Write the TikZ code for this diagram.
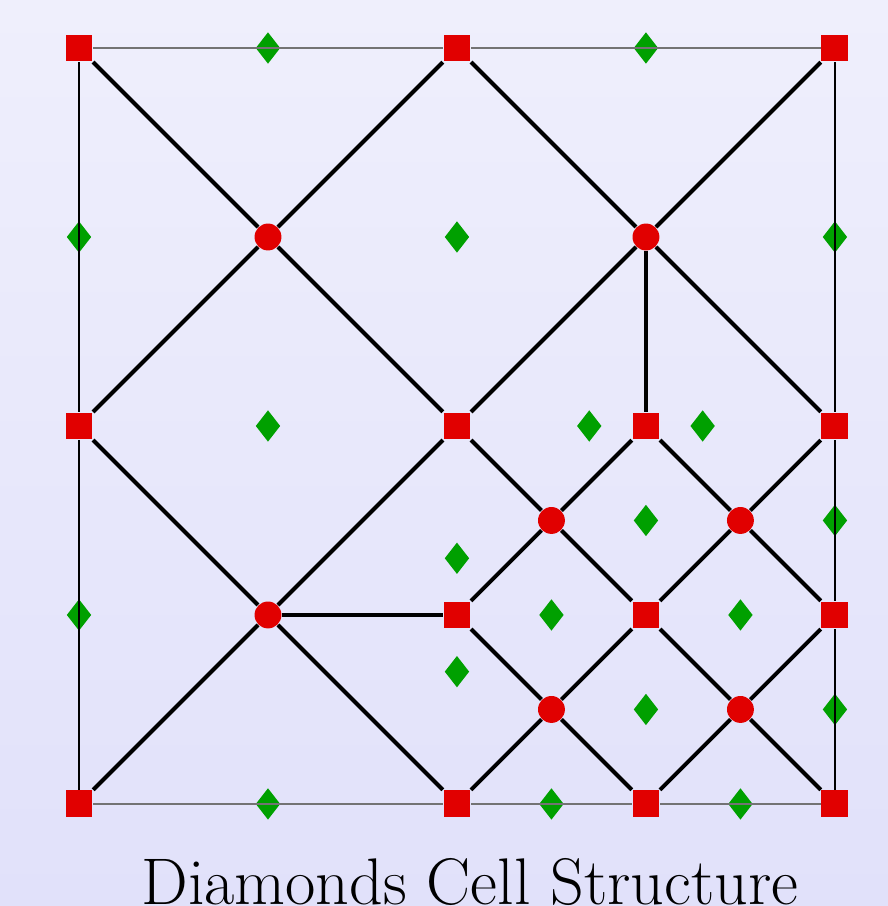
\documentclass[tikz,border=0pt]{standalone}
\usetikzlibrary{shapes.geometric}
\definecolor{bgtop}{RGB}{239,239,252}
\definecolor{bgbot}{RGB}{225,225,250}
\definecolor{cellred}{RGB}{225,0,0}
\definecolor{cellgreen}{RGB}{0,160,0}
\tikzset{
  vertex/.style={rectangle, fill=cellred, inner sep=0pt, minimum size=8.1pt},
  centre/.style={circle, fill=cellred, inner sep=0pt, minimum size=8.1pt},
  edgept/.style={diamond, fill=cellgreen, inner sep=0pt, minimum width=7.5pt, minimum height=9.6pt},
  cell/.style={line width=1.2pt, black}
}
\begin{document}
\begin{tikzpicture}[x=2cm, y=2cm]
	% 1. background
	\shade[top color=bgtop, bottom color=bgbot] (-0.418,-0.540) rectangle (4.280,4.254);
	\useasboundingbox (-0.418,-0.540) rectangle (4.280,4.254);
	
	% 2. edge midpoints (green diamonds)
	\foreach \p [count=\k] in {(1,4),(3,4),(0,3),(2,3),(4,3),(1,2),(2.7,2),(3.3,2),(3,1.5),(4,1.5),
		(2,1.3),(0,1),(2.5,1),(3.5,1),(2,0.7),(3,0.5),(4,0.5),(1,0),(2.5,0),(3.5,0)}
		\node[edgept] (m\k) at \p {};
	
	% 3. corner vertices (red squares)
	\node[vertex] (a1) at (0,4) {}; \node[vertex] (a2) at (2,4) {}; \node[vertex] (a3) at (4,4) {};
	\node[vertex] (b1) at (0,2) {}; \node[vertex] (b2) at (2,2) {};
	\node[vertex] (b3) at (3,2) {}; \node[vertex] (b4) at (4,2) {};
	\node[vertex] (c1) at (2,1) {}; \node[vertex] (c2) at (3,1) {}; \node[vertex] (c3) at (4,1) {};
	\node[vertex] (d1) at (0,0) {}; \node[vertex] (d2) at (2,0) {};
	\node[vertex] (d3) at (3,0) {}; \node[vertex] (d4) at (4,0) {};
	
	% 4. cell centres (red circles)
	\node[centre] (p1) at (1,3) {}; \node[centre] (p2) at (3,3) {};
	\node[centre] (p3) at (1,1) {};
	\node[centre] (p4) at (2.5,1.5) {}; \node[centre] (p5) at (3.5,1.5) {};
	\node[centre] (p6) at (2.5,0.5) {}; \node[centre] (p7) at (3.5,0.5) {};
	
	% 5. domain border
	\draw[gray!90!black, line width=0.6pt] (a1) -- (a2) -- (a3);
	\draw[gray!90!black, line width=0.6pt] (d1) -- (d2) -- (d3) -- (d4);
	\draw[line width=0.35pt] (a1) -- (b1) -- (d1);
	\draw[line width=0.35pt] (a3) -- (b4) -- (c3) -- (d4);
	
	% 6. diamond cells
	\foreach \c/\v in {p1/a1,p1/a2,p1/b1,p1/b2,
		p2/a2,p2/a3,p2/b2,p2/b3,p2/b4,
		p3/b1,p3/b2,p3/d1,p3/d2,p3/c1,
		p4/b2,p4/b3,p4/c1,p4/c2,
		p5/b3,p5/b4,p5/c2,p5/c3,
		p6/c1,p6/c2,p6/d2,p6/d3,
		p7/c2,p7/c3,p7/d3,p7/d4}
		\draw[cell] (\c) -- (\v);
	
	% 7. title
	\node[anchor=base, font=\fontsize{19.85}{24}\selectfont] (title) at (2.069,-0.534) {Diamonds Cell Structure};
\end{tikzpicture}
\end{document}
